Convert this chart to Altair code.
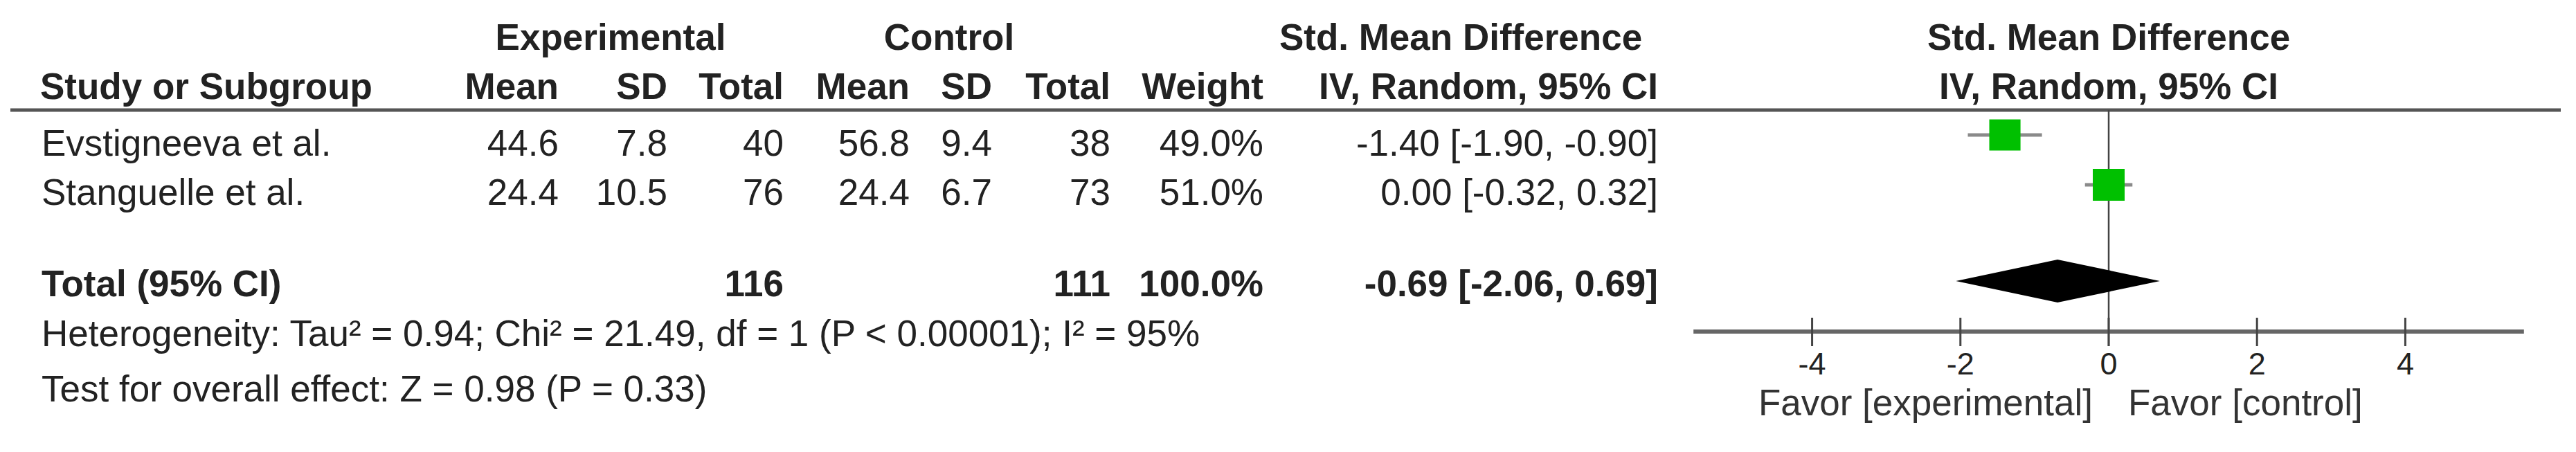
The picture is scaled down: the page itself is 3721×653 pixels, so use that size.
import altair as alt
import pandas as pd

# ---------------- data ----------------
studies = ["Evstigneeva et al.", "Stanguelle et al."]
exp_mean = [44.6, 24.4]
exp_sd = [7.8, 10.5]
exp_total = [40, 76]
ctl_mean = [56.8, 24.4]
ctl_sd = [9.4, 6.7]
ctl_total = [38, 73]
weights = [49.0, 51.0]
smd = [-1.40, 0.00]
ci_low = [-1.90, -0.32]
ci_high = [-0.90, 0.32]

total_label = "Total (95% CI)"
total_exp = 116
total_ctl = 111
total_weight = 100.0
total_smd = -0.69
total_low = -2.06
total_high = 0.69

heterogeneity = "Heterogeneity: Tau\u00b2 = 0.94; Chi\u00b2 = 21.49, df = 1 (P < 0.00001); I\u00b2 = 95%"
overall = "Test for overall effect: Z = 0.98 (P = 0.33)"

axis_ticks = [-4, -2, 0, 2, 4]
axis_labels = ["-4", "-2", "0", "2", "4"]
favor_left = "Favor [experimental]"
favor_right = "Favor [control]"

# ---------------- layout ----------------
W, H = 3700, 632
FONT = "Liberation Sans"
TXT = "#222222"
FS = 53
GREEN = "#00C000"

HDR1, HDR2 = 64, 135
ROW_Y = [217, 288]
TOT_Y, HET_Y, TEST_Y = 420, 492, 572
MARK_Y = [187, 259]
DIA_Y, DIA_H = 398, 31
HLINE_Y = 151
AXIS_Y = 471
TICK_TOP, TICK_BOT = 451, 492
TICKLAB_Y = 533
FAVOR_Y = 592

DOMAIN = [-5.6, 5.6]
XS = alt.Scale(domain=DOMAIN, range=[2438.2, 3637.8], nice=False, zero=False)
YS = alt.Scale(domain=[0, H], range=[0, H], nice=False, zero=False)

COL = dict(name=52, em=799, esd=956, en=1124, cm=1306, csd=1425, cn=1596,
           w=1817, ci=2387, exp_c=874, ctl_c=1363, smd_c=2102)


def ci_text(e, lo, hi):
    return f"{e:.2f} [{lo:.2f}, {hi:.2f}]"


def text_layer(texts, ys, x, align, bold=False, size=FS, color=TXT):
    df = pd.DataFrame({"t": texts, "y": ys})
    return alt.Chart(df).mark_text(
        align=align, baseline="alphabetic", font=FONT, fontSize=size,
        fontWeight="bold" if bold else "normal", color=color
    ).encode(x=alt.value(x), y=alt.Y("y:Q", scale=YS, axis=None), text="t:N")


layers = []

# header rule
layers.append(alt.Chart().mark_rule(color="#555555", strokeWidth=5).encode(
    x=alt.value(7), x2=alt.value(3691), y=alt.value(HLINE_Y)))

# zero line
layers.append(alt.Chart().mark_rule(color="#444444", strokeWidth=2.5).encode(
    x=alt.XDatum(0, type="quantitative", scale=XS, axis=None),
    y=alt.value(HLINE_Y), y2=alt.value(TICK_BOT)))

# axis line
layers.append(alt.Chart().mark_rule(color="#666666", strokeWidth=6).encode(
    x=alt.XDatum(DOMAIN[0], type="quantitative", scale=XS, axis=None),
    x2=alt.X2Datum(DOMAIN[1]), y=alt.value(AXIS_Y)))

# ticks + labels
tick_df = pd.DataFrame({"v": axis_ticks, "lab": axis_labels})
layers.append(alt.Chart(tick_df).mark_rule(color="#444444", strokeWidth=3).encode(
    x=alt.X("v:Q", scale=XS, axis=None), y=alt.value(TICK_TOP), y2=alt.value(TICK_BOT)))
layers.append(alt.Chart(tick_df).mark_text(
    font=FONT, fontSize=45, color=TXT, baseline="alphabetic", align="center").encode(
    x=alt.X("v:Q", scale=XS, axis=None), y=alt.value(TICKLAB_Y), text="lab:N"))

# study CI lines and squares
st_df = pd.DataFrame({"smd": smd, "lo": ci_low, "hi": ci_high, "w": weights, "y": MARK_Y})
layers.append(alt.Chart(st_df).mark_rule(color="#8a8a8a", strokeWidth=5).encode(
    x=alt.X("lo:Q", scale=XS, axis=None), x2="hi:Q", y=alt.Y("y:Q", scale=YS, axis=None)))
layers.append(alt.Chart(st_df).mark_square(color=GREEN, opacity=1, filled=True).encode(
    x=alt.X("smd:Q", scale=XS, axis=None), y=alt.Y("y:Q", scale=YS, axis=None),
    size=alt.Size("w:Q", scale=alt.Scale(domain=[0, 100], range=[0, 4150]), legend=None)))

# diamond
dia_df = pd.DataFrame({
    "x": [total_low, total_smd, total_high],
    "y1": [DIA_Y, DIA_Y - DIA_H, DIA_Y],
    "y2": [DIA_Y, DIA_Y + DIA_H, DIA_Y],
})
layers.append(alt.Chart(dia_df).mark_area(color="black", orient="vertical").encode(
    x=alt.X("x:Q", scale=XS, axis=None), y=alt.Y("y1:Q", scale=YS, axis=None), y2="y2:Q"))

# ---------------- table headers ----------------
layers.append(text_layer(["Experimental"], [HDR1], COL["exp_c"], "center", True))
layers.append(text_layer(["Control"], [HDR1], COL["ctl_c"], "center", True))
layers.append(text_layer(["Std. Mean Difference"], [HDR1], COL["smd_c"], "center", True))
layers.append(text_layer(["Study or Subgroup"], [HDR2], 50, "left", True))
for key, lab in [("em", "Mean"), ("esd", "SD"), ("en", "Total"), ("cm", "Mean"),
                 ("csd", "SD"), ("cn", "Total"), ("w", "Weight"), ("ci", "IV, Random, 95% CI")]:
    layers.append(text_layer([lab], [HDR2], COL[key], "right", True))

# forest headers centred on zero
fh_df = pd.DataFrame({"t": ["Std. Mean Difference", "IV, Random, 95% CI"], "y": [HDR1, HDR2]})
layers.append(alt.Chart(fh_df).mark_text(
    align="center", baseline="alphabetic", font=FONT, fontSize=FS, fontWeight="bold", color=TXT
).encode(x=alt.XDatum(0, type="quantitative", scale=XS, axis=None),
         y=alt.Y("y:Q", scale=YS, axis=None), text="t:N"))

# ---------------- study rows ----------------
layers.append(text_layer(studies, ROW_Y, COL["name"], "left"))
layers.append(text_layer([f"{v:.1f}" for v in exp_mean], ROW_Y, COL["em"], "right"))
layers.append(text_layer([f"{v:.1f}" for v in exp_sd], ROW_Y, COL["esd"], "right"))
layers.append(text_layer([str(v) for v in exp_total], ROW_Y, COL["en"], "right"))
layers.append(text_layer([f"{v:.1f}" for v in ctl_mean], ROW_Y, COL["cm"], "right"))
layers.append(text_layer([f"{v:.1f}" for v in ctl_sd], ROW_Y, COL["csd"], "right"))
layers.append(text_layer([str(v) for v in ctl_total], ROW_Y, COL["cn"], "right"))
layers.append(text_layer([f"{v:.1f}%" for v in weights], ROW_Y, COL["w"], "right"))
layers.append(text_layer([ci_text(e, l, h) for e, l, h in zip(smd, ci_low, ci_high)],
                         ROW_Y, COL["ci"], "right"))

# ---------------- total row ----------------
layers.append(text_layer([total_label], [TOT_Y], COL["name"], "left", True))
layers.append(text_layer([str(total_exp)], [TOT_Y], COL["en"], "right", True))
layers.append(text_layer([str(total_ctl)], [TOT_Y], COL["cn"], "right", True))
layers.append(text_layer([f"{total_weight:.1f}%"], [TOT_Y], COL["w"], "right", True))
layers.append(text_layer([ci_text(total_smd, total_low, total_high)], [TOT_Y], COL["ci"], "right", True))

# ---------------- footnotes ----------------
layers.append(text_layer([heterogeneity, overall], [HET_Y, TEST_Y], COL["name"], "left"))

# favour labels
layers.append(alt.Chart().mark_text(
    align="right", baseline="alphabetic", font=FONT, fontSize=FS, color="#333333", dx=-23, text=favor_left
).encode(x=alt.XDatum(0, type="quantitative", scale=XS, axis=None), y=alt.value(FAVOR_Y)))
layers.append(alt.Chart().mark_text(
    align="left", baseline="alphabetic", font=FONT, fontSize=FS, color="#333333", dx=28, text=favor_right
).encode(x=alt.XDatum(0, type="quantitative", scale=XS, axis=None), y=alt.value(FAVOR_Y)))

chart = alt.layer(*layers).properties(
    width=W, height=H,
    autosize=alt.AutoSizeParams(type="none"),
    padding={"left": 0, "top": 0, "right": 0, "bottom": 0},
    background="white",
).configure_view(stroke=None)

chart.save("out.html", embed_options={"renderer": "svg", "actions": False})
